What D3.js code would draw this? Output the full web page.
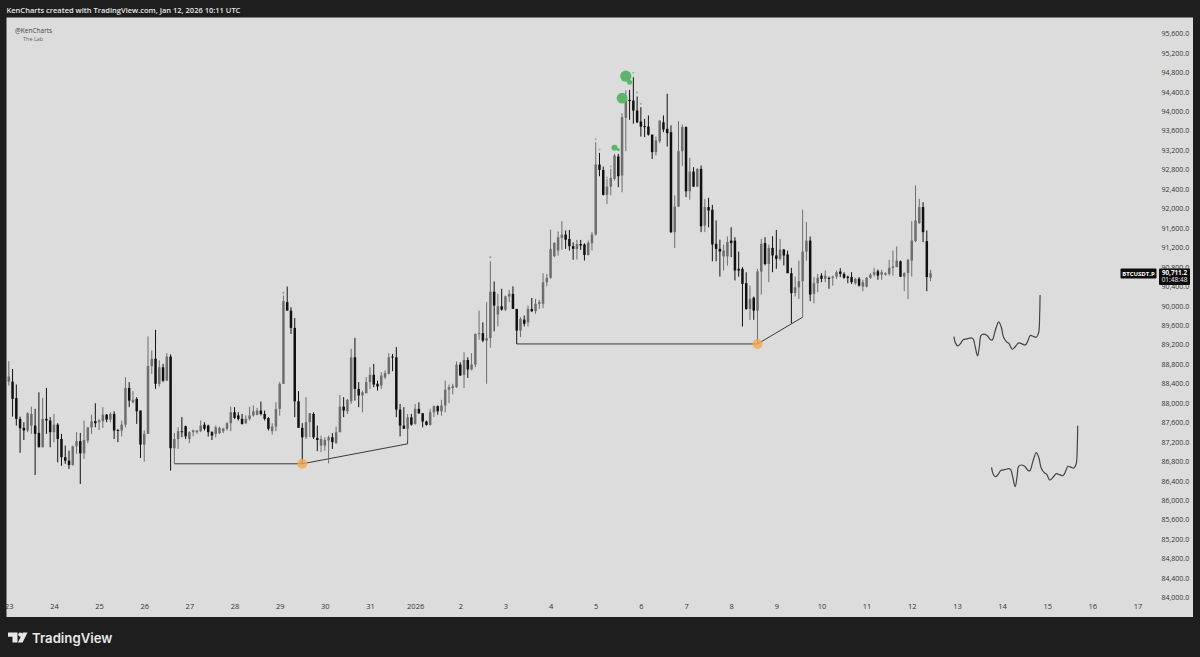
<!DOCTYPE html>
<html lang="en">
<head>
<meta charset="UTF-8">
<title>BTCUSDT.P</title>
<script src="https://d3js.org/d3.v7.min.js"></script>
<style>
    html, body { margin: 0; padding: 0; background: #1e1e1e; overflow: hidden; }
    text { font-family: "Open Sans", "Liberation Sans", sans-serif; }
    .axis path, .axis line { display: none; }
    .axis text { fill: #333; font-family: "Open Sans", sans-serif; }
    .x-axis text { font-size: 7.5px; }
    .y-axis text { font-size: 7px; }
</style>
</head>
<body>
<script>
// candles, one every 2 hours starting Dec 23
const opens = [
88440,88440,88100,87675,87490,87435,87535,87535,87385,87090,
87675,87640,87400,87555,87260,86885,86815,86725,87110,87215,
86965,87230,87500,87625,87605,87625,87760,87660,87775,87445,
87435,87555,88310,88015,88085,87845,87145,87365,88760,88910,
88395,88735,88460,88955,87070,87260,87420,87525,87260,87400,
87400,87420,87555,87535,87400,87365,87380,87420,87470,87585,
87810,87745,87675,87585,87675,87745,87760,87845,87775,87690,
87420,87515,87880,88395,90075,89900,89545,88035,87490,87296,
87605,87775,87280,87125,87125,87230,87295,87175,87400,87925,
87830,88035,88940,88290,88155,88200,88430,88580,88395,88360,
88530,88600,88955,88940,87865,87535,87470,87705,87570,87880,
87790,87620,87550,87810,87935,87830,87950,88275,88310,88325,
88790,88580,88885,88690,88790,89420,89435,89285,89335,90290,
89820,89990,89920,90190,90245,89935,89490,89715,89660,89935,
89890,90040,90040,90485,90575,91020,91136,91397,91465,91375,
91225,91170,91270,91260,91045,91285,91465,92905,92795,92280,
92450,92610,93070,92680,93865,94235,94220,94015,93790,93695,
93685,93520,93160,93385,93775,93640,93570,91515,92040,93180,
93675,92355,92760,92450,92815,91650,92030,91975,91275,91170,
91015,91015,91340,91340,90760,90760,90465,89935,90165,89900,
90705,91290,90860,91190,91035,90965,91155,91055,90670,90260,
90380,90505,91115,91340,90245,90465,90620,90555,90575,90575,
90600,90705,90655,90600,90590,90465,90555,90395,90395,90575,
90640,90710,90640,90640,90655,90780,90795,90915,90600,90670,
90930,91330,91700,92030,91330,90575]

const highs = [
88860,88700,88380,87720,87605,87810,87925,87880,88220,88105,
88310,87710,87775,87585,87365,87125,87020,87125,87400,87385,
87640,87500,87760,87995,87675,87915,87775,87810,87830,87470,
87640,88530,88430,88245,88120,87845,87435,89370,89080,89505,
88875,88805,89025,89000,87385,87500,87710,87535,87420,87455,
87445,87640,87605,87555,87420,87535,87515,87490,87605,87925,
87915,87810,87775,87745,87925,87950,87900,88030,87845,87710,
87585,88015,88430,90210,90395,89970,89750,88245,87585,88120,
87790,87810,87535,87330,87295,87330,87380,87515,88165,88120,
88085,89115,89340,88430,88255,88530,88735,88805,88460,88635,
88670,89025,89010,89150,87980,87915,87775,87775,87980,88015,
87790,87640,87880,87950,87950,88065,88460,88380,88395,88855,
88840,89045,88940,89025,89435,89900,89660,90075,90915,90500,
90245,90350,90210,90325,90400,89935,89765,89800,90005,90160,
90140,90120,90670,90655,91568,91307,91527,91740,91550,91560,
91305,91355,91355,91285,91340,91515,93365,93145,92865,92610,
92815,93125,93125,93960,94430,94440,94700,94305,94085,93845,
93915,93520,93480,93810,93915,94360,93710,92270,93795,93730,
93690,93045,92850,92830,92885,92200,92220,92075,91755,91360,
91260,91425,91615,91410,91115,90795,90690,90415,90190,90760,
91375,91410,91260,91430,91560,91375,91170,91135,90780,90600,
90930,91975,91720,91425,90590,90655,90670,90725,90600,90620,
90725,90775,90690,90620,90690,90575,90590,90535,90590,90670,
90780,90745,90740,90690,90945,91135,91220,90930,90690,90965,
91740,92475,92200,92130,91550,90740]

const lows = [
88360,87720,87535,86975,87240,87400,87365,86520,87090,87090,
87365,87090,87195,86780,86710,86750,86645,86710,86955,86335,
86850,87175,87365,87500,87445,87490,87605,87605,87260,87195,
87315,87500,87915,87995,87570,86870,86795,87365,88600,88290,
88340,88430,88460,86610,86750,87055,87295,87260,87175,87315,
87365,87400,87435,87310,87240,87295,87365,87380,87435,87420,
87675,87640,87555,87570,87640,87720,87745,87745,87640,87435,
87350,87420,87740,88395,89900,89420,87710,87490,86750,87260,
87295,87260,87010,86990,87020,86760,87055,87160,87400,87710,
87775,87980,88050,87915,87810,88200,88290,88325,88255,88290,
88495,88585,88655,87710,87315,87470,87230,87535,87555,87775,
87500,87535,87535,87710,87760,87740,87810,88000,88175,88310,
88565,88310,88515,88670,88735,89300,89250,88395,89135,89475,
89575,89900,89890,90075,89935,89215,89355,89575,89575,89870,
89835,89935,89950,90400,90555,91000,91033,91150,91170,91135,
90945,90950,91150,90930,91035,91135,91445,92665,92270,92095,
92270,92575,92440,92335,93180,93825,93745,93755,93480,93470,
93500,93020,93090,93345,93570,93275,91495,91190,92030,92870,
92235,92180,92450,92450,91515,91515,91615,90915,90915,90600,
90725,90825,91000,90520,90600,89575,89915,89710,89710,89215,
90230,90830,90485,90690,90760,90930,90830,90670,89640,90190,
90140,89765,90930,90095,90050,90280,90485,90485,90350,90415,
90555,90590,90555,90465,90450,90435,90395,90300,90380,90555,
90600,90535,90535,90620,90620,90620,90795,90590,90300,90140,
90600,91310,91685,91310,90300,90505]

const closes = [
88545,88085,87675,87480,87435,87790,87775,87365,87090,87675,
87640,87400,87555,87260,86885,86815,86725,87110,87215,86965,
87240,87500,87625,87585,87640,87760,87660,87775,87435,87435,
87555,88310,88050,88065,87830,87145,87365,88760,88910,88395,
88735,88460,88955,87070,87260,87420,87400,87315,87400,87435,
87435,87535,87470,87400,87330,87500,87490,87475,87585,87810,
87695,87675,87570,87675,87745,87830,87845,87775,87675,87470,
87515,87880,88395,90095,89900,89545,88035,87490,87295,87605,
87790,87295,87240,87260,87240,87295,87195,87400,87925,87845,
88065,88940,88290,88155,88220,88430,88580,88380,88340,88565,
88615,88940,88940,87865,87535,87470,87705,87555,87880,87790,
87620,87550,87810,87935,87830,87950,88275,88325,88345,88790,
88565,88885,88690,88790,89420,89435,89285,89335,90290,90005,
89990,89920,90195,90245,89935,89490,89730,89630,89935,89890,
90040,90075,90485,90575,91170,91294,91410,91465,91360,91225,
91170,91270,91240,91045,91295,91465,92905,92795,92280,92450,
92630,93090,92665,93880,94235,94210,94015,93775,93685,93675,
93520,93160,93400,93810,93625,93550,91515,92040,93180,93675,
92355,92760,92450,92815,91635,92030,91960,91260,91170,91115,
91135,91310,91290,90725,90725,90450,89935,90140,89900,90705,
91275,90860,91190,91035,90965,91155,91035,90670,90260,90380,
90505,91115,91340,90230,90465,90575,90555,90620,90555,90600,
90690,90655,90575,90575,90485,90555,90415,90485,90575,90640,
90690,90620,90690,90670,90780,90810,90930,90600,90670,90945,
91340,91755,92030,91515,90590,90670]

// axis labels
const priceTicks = [95600,95200,94800,94400,94000,93600,93200,92800,92400,92000,91600,91200,90800,90400,90000,
    89600,89200,88800,88400,88000,87600,87200,86800,86400,86000,85600,85200,84800,84400,84000]
const dayTicks = ["2025-12-23","2025-12-24","2025-12-25","2025-12-26","2025-12-27","2025-12-28","2025-12-29","2025-12-30",
    "2025-12-31","2026-01-01","2026-01-02","2026-01-03","2026-01-04","2026-01-05","2026-01-06","2026-01-07","2026-01-08",
    "2026-01-09","2026-01-10","2026-01-11","2026-01-12","2026-01-13","2026-01-14","2026-01-15","2026-01-16","2026-01-17"]
const dayLabels = ["23","24","25","26","27","28","29","30","31","2026","2","3","4","5","6","7","8","9","10","11","12","13","14","15","16","17"]

// drawn trend lines: candle number + price
const trendA = [[44,86750],[78,86750],[106,87160],[106,87470]]
const trendB = [[135,89215],[199,89215],[211,89765]]

// bubbles: candle number, price, size
const greenIdx = [164,165,163,161,162,156,157,159,160,166,167,168]
const greenPrice = [94722,94598,94269,93249,93208,93426,93214,92638,92864,94792,94386,94154]
const greenSize = [30,6,28,9,2,1,1,1,1,1,1,1]
const orangeIdx = [78,199]
const orangePrice = [86750,89215]
const greyIdx = [73,128]
const greyPrice = [90270,91000]

// the two hand drawn projections
const sketch1Idx = [251.2,251.6,252.2,252.9,253.6,254.7,255.8,256.3,256.8,257.5,258,258.4,259.1,260,260.9,261.4,262.2,
    263.1,263.8,264.4,265.3,265.8,266.7,267.6,268.4,269.3,270.2,270.9,271.5,272.4,273.1,273.7,274,274.1]
const sketch1Price = [89367,89237,89175,89216,89298,89319,89340,89319,89182,88969,89182,89388,89415,89388,89305,89298,89490,
    89669,89559,89353,89250,89230,89106,89168,89237,89216,89196,89285,89388,89367,89353,89436,89833,90224]
const sketch2Idx = [261.2,261.6,262.2,262.9,263.6,264.7,265.8,266.3,266.8,267.5,268,268.4,269.1,270,270.9,271.4,272.2,
    273.1,273.8,274.4,275.3,275.8,276.7,277.6,278.4,279.3,280.2,280.9,281.5,282.4,283.1,283.7,284,284.1]
const sketch2Price = [86677,86547,86485,86526,86608,86629,86650,86629,86492,86279,86492,86698,86725,86698,86615,86608,86800,
    86979,86869,86663,86560,86540,86416,86478,86547,86526,86506,86595,86698,86677,86663,86746,87143,87534]

const lastPrice = 90711.2
const countdown = "01:48:48"

const WIDTH = 1200
const HEIGHT = 657
const PANE = {LEFT: 6.5, TOP: 17.5, RIGHT: 1193, BOTTOM: 617}

const svg = d3.select("body").append("svg")
    .attr("width", WIDTH)
    .attr("height", HEIGHT)
    .style("display", "block")

// dark page and the light chart pane
svg.append("rect").attr("width", WIDTH).attr("height", HEIGHT).attr("fill", "#1e1e1e")
svg.append("rect")
    .attr("x", PANE.LEFT).attr("y", PANE.TOP)
    .attr("width", PANE.RIGHT - PANE.LEFT).attr("height", PANE.BOTTOM - PANE.TOP)
    .attr("fill", "#dcdcdc")

const parseDay = d3.utcParse("%Y-%m-%d")
const start = parseDay(dayTicks[0])
const x = d3.scaleUtc()
    .domain([start, parseDay(dayTicks[dayTicks.length - 1])])
    .range([8.8, 1137.5])
const y = d3.scaleLinear().domain([84000, 95600]).range([597.5, 33.5])

// candle number -> x pixel
const xi = i => x(new Date(+start + i * 2 * 3600 * 1000))

// axes
const xAxis = d3.axisBottom(x)
    .tickValues(dayTicks.map(parseDay))
    .tickFormat((d, i) => dayLabels[i])
    .tickSize(0)
svg.append("g").attr("class", "axis x-axis")
    .attr("transform", "translate(0,601)")
    .call(xAxis)
    .select(".domain").remove()

const yAxis = d3.axisRight(y)
    .tickValues(priceTicks)
    .tickFormat(d3.format(",.1f"))
    .tickSize(0)
svg.append("g").attr("class", "axis y-axis")
    .attr("transform", "translate(1158.5,0)")
    .call(yAxis)

// trend lines
const trendLine = d3.line().x(d => xi(d[0])).y(d => y(d[1]))
svg.selectAll(".trend")
    .data([trendA, trendB])
    .enter().append("path")
    .attr("class", "trend")
    .attr("d", trendLine)
    .attr("fill", "none")
    .attr("stroke", "#3a3a3a")
    .attr("stroke-width", 1)

// candles
const UP = "#6e6e6e"
const DOWN = "#111111"
const candles = svg.selectAll(".candle")
    .data(opens.map((o, i) => ({i: i, o: o, h: highs[i], l: lows[i], c: closes[i]})))
    .enter().append("g")
    .attr("class", "candle")
candles.append("line")
    .attr("x1", d => xi(d.i)).attr("x2", d => xi(d.i))
    .attr("y1", d => y(d.h)).attr("y2", d => y(d.l))
    .attr("stroke", d => d.c >= d.o ? UP : DOWN)
    .attr("stroke-width", 1)
candles.append("rect")
    .attr("x", d => xi(d.i) - 1.25)
    .attr("width", 2.5)
    .attr("y", d => y(Math.max(d.o, d.c)))
    .attr("height", d => Math.max(1, Math.abs(y(d.o) - y(d.c))))
    .attr("fill", d => d.c >= d.o ? UP : DOWN)

// bubbles
const bubbleSize = d3.scaleSqrt().domain([0, 30]).range([0, 5.6])
svg.selectAll(".green")
    .data(greenIdx)
    .enter().append("circle")
    .attr("class", "green")
    .attr("cx", d => xi(d))
    .attr("cy", (d, i) => y(greenPrice[i]))
    .attr("r", (d, i) => bubbleSize(greenSize[i]))
    .attr("fill", "#5db56b")
    .attr("fill-opacity", (d, i) => greenSize[i] > 1 ? 1 : 0.7)
svg.selectAll(".orange")
    .data(orangeIdx)
    .enter().append("circle")
    .attr("class", "orange")
    .attr("cx", d => xi(d))
    .attr("cy", (d, i) => y(orangePrice[i]))
    .attr("r", 5)
    .attr("fill", "#f5a94e")
    .attr("fill-opacity", 0.8)
svg.selectAll(".grey")
    .data(greyIdx)
    .enter().append("circle")
    .attr("class", "grey")
    .attr("cx", d => xi(d))
    .attr("cy", (d, i) => y(greyPrice[i]))
    .attr("r", 1)
    .attr("fill", "#8a9a8c")

// projections
const sketchLine = d3.line()
    .x(d => xi(d[0]))
    .y(d => y(d[1]))
    .curve(d3.curveCatmullRom.alpha(0.5))
;[[sketch1Idx, sketch1Price], [sketch2Idx, sketch2Price]].forEach(s => {
    svg.append("path")
        .attr("d", sketchLine(s[0].map((v, i) => [v, s[1][i]])))
        .attr("fill", "none")
        .attr("stroke", "#444")
        .attr("stroke-width", 1.2)
})

// price tag
const tagY = y(lastPrice) - 2.6
svg.append("rect").attr("x", 1120.5).attr("y", tagY).attr("width", 36).attr("height", 10).attr("rx", 1).attr("fill", "#0d0d0d")
svg.append("text").attr("x", 1138.5).attr("y", tagY + 7.2)
    .attr("text-anchor", "middle").attr("fill", "#fff")
    .attr("font-size", 6).attr("font-weight", 700).text("BTCUSDT.P")
svg.append("rect").attr("x", 1159).attr("y", tagY).attr("width", 31).attr("height", 16.5).attr("rx", 1).attr("fill", "#0d0d0d")
svg.append("text").attr("x", 1174.5).attr("y", tagY + 6.2)
    .attr("text-anchor", "middle").attr("fill", "#fff")
    .attr("font-size", 6.3).attr("font-weight", 700).text(d3.format(",.1f")(lastPrice))
svg.append("text").attr("x", 1174.5).attr("y", tagY + 13.6)
    .attr("text-anchor", "middle").attr("fill", "#e8e8e8")
    .attr("font-size", 6.5).text(countdown)

// header, watermark, footer
svg.append("text").attr("x", 6.5).attr("y", 12.5)
    .attr("fill", "#e6e6e6").attr("font-size", 7.5).attr("font-weight", 600)
    .text("KenCharts created with TradingView.com, Jan 12, 2026 10:11 UTC")
svg.append("text").attr("x", 15).attr("y", 32.5).attr("fill", "#444").attr("font-size", 6.5).text("@KenCharts")
svg.append("text").attr("x", 23).attr("y", 41).attr("fill", "#666").attr("font-size", 5.5).text("The Lab")

const logo = svg.append("g").attr("fill", "#e8e8e8")
logo.append("path").attr("d", "M8 632.5H17.5V642.5H12.5V636.8H8Z")
logo.append("circle").attr("cx", 20.3).attr("cy", 634.6).attr("r", 2.1)
logo.append("path").attr("d", "M22.8 632.5H27.5L22.6 642.5H17.9Z")
svg.append("text").attr("x", 32).attr("y", 643)
    .attr("fill", "#e8e8e8").attr("font-size", 13.2).attr("font-weight", 600)
    .style("font-family", "Inter, sans-serif")
    .text("TradingView")
</script>
</body>
</html>
